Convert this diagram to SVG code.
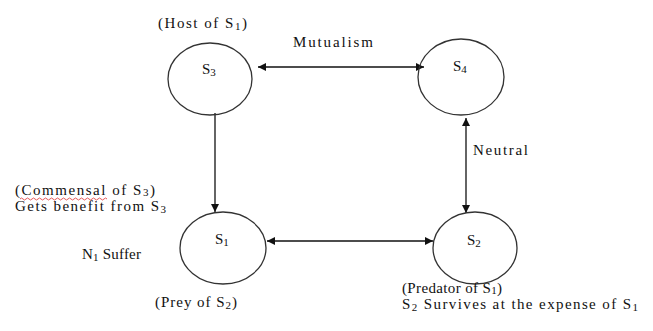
<svg xmlns="http://www.w3.org/2000/svg" width="653" height="331" viewBox="0 0 653 331" font-family="'Liberation Serif', 'Times New Roman', serif">
<style>
.node ellipse{fill:none;stroke:#333;stroke-width:1.3}
text{font-family:'Liberation Serif','DejaVu Serif',serif;font-size:15px;fill:#111}
.sub{font-size:11px}
.conn line{stroke:#111;stroke-width:1.3}
</style>
<defs>
<marker id="ah" viewBox="0 0 10 10" refX="10" refY="5" markerWidth="8" markerHeight="8" markerUnits="userSpaceOnUse" orient="auto-start-reverse">
<path d="M0,0 L10,5 L0,10 z" fill="#111"/>
</marker>
</defs>
<rect width="653" height="331" fill="#fff"/>
<g id="connectors" class="conn">
<line x1="258" y1="67" x2="424" y2="67" marker-start="url(#ah)" marker-end="url(#ah)"/>
<line x1="215" y1="113" x2="215" y2="212" marker-end="url(#ah)"/>
<line x1="267" y1="241" x2="433" y2="241" marker-start="url(#ah)" marker-end="url(#ah)"/>
<line x1="466" y1="118" x2="466" y2="213" marker-start="url(#ah)" marker-end="url(#ah)"/>
</g>
<g id="node-s3" class="node">
<ellipse cx="210" cy="79" rx="42" ry="36"/>
<text x="202" y="74">S<tspan class="sub" dy="2">3</tspan></text>
<text x="158" y="28" textLength="89" lengthAdjust="spacing">(Host of S<tspan class="sub" dy="2">1</tspan><tspan dy="-2">)</tspan></text>
</g>
<g id="node-s4" class="node">
<ellipse cx="461" cy="77" rx="43" ry="38"/>
<text x="453" y="71">S<tspan class="sub" dy="2">4</tspan></text>
</g>
<g id="node-s1" class="node">
<ellipse cx="223" cy="248" rx="43" ry="36"/>
<text x="215" y="244">S<tspan class="sub" dy="2">1</tspan></text>
<text x="155" y="307" textLength="82" lengthAdjust="spacing">(Prey of S<tspan class="sub" dy="2">2</tspan><tspan dy="-2">)</tspan></text>
<text x="15" y="195" textLength="140" lengthAdjust="spacing">(Commensal of S<tspan class="sub" dy="1">3</tspan><tspan dy="-1">)</tspan></text>
<path d="M20,199 q1.5,-2 3,0 t3,0 t3,0 t3,0 t3,0 t3,0 t3,0 t3,0 t3,0 t3,0 t3,0 t3,0 t3,0 t3,0 t3,0 t3,0 t3,0 t3,0 t3,0 t3,0 t3,0 t3,0 t3,0 t3,0 t3,0 t3,0 t3,0 t3,0 t3,0" fill="none" stroke="#e03030" stroke-width="0.8"/>
<text x="15" y="211" textLength="151" lengthAdjust="spacing">Gets benefit from S<tspan class="sub" dy="2">3</tspan></text>
<text x="82" y="259" textLength="59" lengthAdjust="spacing">N<tspan class="sub" dy="2">1</tspan><tspan dy="-2"> Suffer</tspan></text>
</g>
<g id="node-s2" class="node">
<ellipse cx="475" cy="248" rx="42" ry="36"/>
<text x="467" y="245">S<tspan class="sub" dy="2">2</tspan></text>
<text x="402" y="293" textLength="100" lengthAdjust="spacing">(Predator of S<tspan class="sub" dy="1">1</tspan><tspan dy="-1">)</tspan></text>
<text x="402" y="309" textLength="236" lengthAdjust="spacing">S<tspan class="sub" dy="2">2</tspan><tspan dy="-2"> Survives at the expense of S</tspan><tspan class="sub" dy="2">1</tspan></text>
</g>
<g id="labels">
<text x="293" y="47" textLength="80" lengthAdjust="spacing">Mutualism</text>
<text x="473" y="155" textLength="55" lengthAdjust="spacing">Neutral</text>
</g>
</svg>
